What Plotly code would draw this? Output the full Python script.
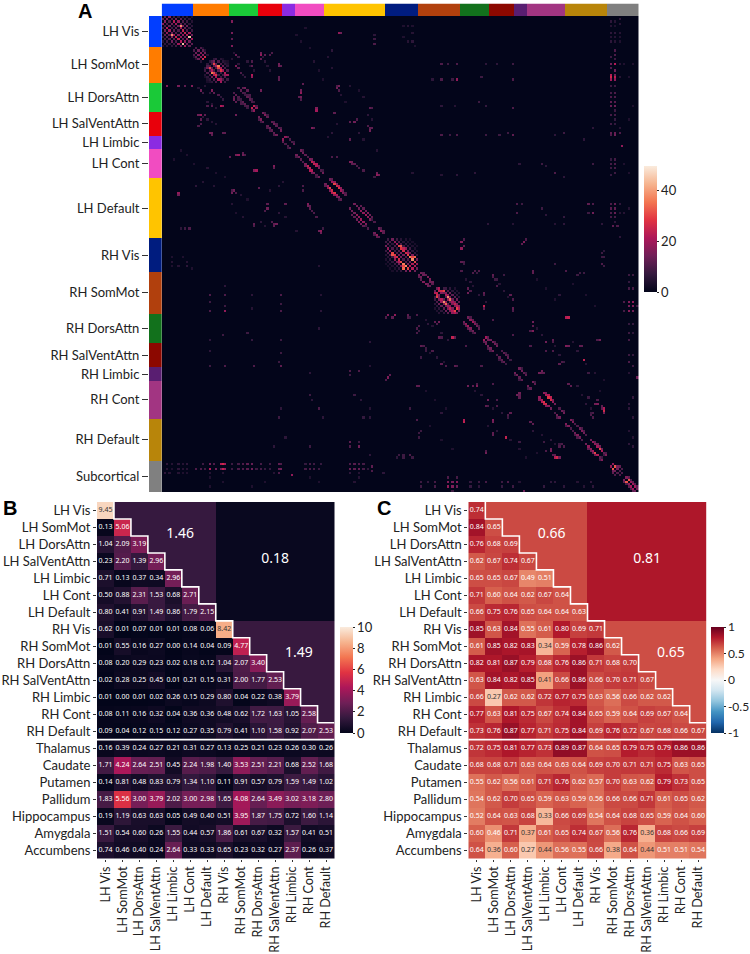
import numpy as np
import plotly.graph_objects as go

W, H = 750, 954
FONT = "Lato"

# panel A : parcels per network
networks = ["LH Vis", "LH SomMot", "LH DorsAttn", "LH SalVentAttn", "LH Limbic", "LH Cont", "LH Default",
            "RH Vis", "RH SomMot", "RH DorsAttn", "RH SalVentAttn", "RH Limbic", "RH Cont", "RH Default",
            "Subcortical"]
network_sizes = [14, 16, 13, 11, 6, 13, 27, 15, 19, 13, 11, 6, 17, 19, 14]
network_colors = ["#023eff", "#ff7c00", "#1ac938", "#e8000b", "#8b2be2", "#f14cc1", "#ffc400",
                  "#001c7f", "#b1400d", "#12711c", "#8c0800", "#591e71", "#a23582", "#b8850a", "#808080"]

# panel A : visible edges as (row, col, value), the matrix is symmetric
lh_vis = [(1,0,12),(2,1,16),(3,2,10),(4,3,14),(5,4,8),(6,5,12),(7,6,10),(8,7,16),(9,8,18),(10,9,12),(11,10,18),(12,11,14),(13,12,12),
          (3,0,18),(4,1,10),(5,2,22),(6,3,20),(7,4,14),(8,5,20),(9,6,24),(10,7,24),(11,8,22),(12,9,44),(13,10,20),
          (5,0,8),(6,1,14),(7,2,18),(8,3,12),(9,4,16),(10,5,12),(11,6,10),(12,7,20),(13,8,14),
          (7,0,6),(8,1,12),(9,2,10),(10,3,10),(11,4,14),(12,5,8),(13,6,8),(9,0,6),(10,1,8),(11,2,8),(12,3,6),(13,4,6),
          (8,4,38),(11,0,5),(12,1,6),(13,2,5),(13,0,4)]
lh_sommot = [(15,14,10),(16,15,14),(17,14,10),(17,16,16),(18,15,12),(18,17,18),(19,16,14),(19,18,26),(18,14,4),(19,15,5),(20,17,5),
             (21,20,6),(22,21,8),(23,22,12),(24,23,10),(25,24,12),(26,25,8),(27,26,8),(28,27,10),(29,28,8),
             (23,20,14),(24,21,12),(25,22,36),(26,23,22),(27,24,20),(28,25,22),(29,26,20),
             (22,20,10),(24,22,22),(26,24,28),(28,26,18),(25,23,30),(23,21,30),
             (24,19,8),(25,20,10),(26,21,10),(27,22,14),(28,23,10),(29,24,10),
             (23,19,6),(26,19,5),(27,20,6),(28,21,6),(29,22,6),(28,20,4),(29,21,4),(29,20,3),(27,19,3)]
lh_dors_sal = [(36,32,12),(37,32,14),(38,33,12),(39,35,10),(34,32,10),(35,33,12),(36,34,10),(37,35,8),(38,36,12),(39,37,12),
               (40,38,10),(37,34,9),(38,35,9),(39,36,9),(40,37,9),(41,38,8),(41,40,24),(42,41,18),(42,40,10),
               (45,43,14),(46,44,16),(46,43,10),(47,45,12),(47,44,8),(49,47,12),(50,48,14),(50,47,10),(51,49,12),(51,48,10),
               (53,51,14),(53,50,10),(52,50,12),(55,54,18),(56,54,12),(57,55,10),(58,56,10),(59,57,12),(59,56,8)]
lh_cont_default = [(62,60,14),(63,61,14),(63,60,10),(64,62,12),(65,63,10),(66,64,16),(67,65,24),(68,66,24),(69,67,22),(70,68,16),
                   (67,64,14),(68,65,18),(69,66,22),(70,67,14),(72,70,14),(72,69,8),(71,69,10),
                   (75,73,14),(76,74,20),(77,75,30),(78,76,26),(79,77,28),(80,78,20),(81,79,16),(76,73,12),(77,74,18),(78,75,16),
                   (79,76,22),(80,77,18),(81,78,14),(82,80,12),(82,79,10),
                   (86,84,14),(87,85,14),(88,86,14),(89,87,18),(90,88,18),(91,89,20),(92,90,18),(93,91,16),(89,85,12),(90,86,12),
                   (91,87,14),(92,88,16),(93,89,14),(94,90,12),(95,92,10),(94,91,8),(97,95,14),(98,96,18),(99,97,12),(98,95,10),(99,96,12)]
lh_cross = [(31,2,16),(31,7,15),(31,10,12),(31,13,16),(33,22,16),(33,17,14),(40,26,22),(40,27,18),(40,20,10),(40,22,12),
            (44,17,18),(44,16,14),(44,19,12),(46,17,12),(48,17,10),(49,16,10),(52,22,14),(53,22,12),(52,27,12),(52,21,14),
            (52,28,12),(44,33,14),(79,7,18),(80,7,14),(76,15,6),(79,31,14),(78,31,10),(77,43,12),(67,50,16),(68,50,12),
            (69,42,20),(69,41,16),(62,34,18),(62,33,14),(62,36,14),(61,36,12),(63,30,12),(62,37,10),(78,32,14),(79,33,10),
            (93,41,12),(86,47,14),(87,46,10),(93,50,12),(92,49,10),(84,55,12),(84,47,12),(93,51,14),(94,50,12),(94,41,10),
            (96,71,18),(97,71,14),(85,65,14),(86,66,12),(87,67,10),(95,12,10),(95,10,8),(95,8,6),(65,84,16),(66,85,12),
            (68,88,10),(69,90,10),(76,63,10),(78,63,10),(70,96,14),(72,95,8),(34,18,8),(34,21,6),(34,23,12),(35,25,10),
            (36,26,6),(37,27,7),(31,19,5),(32,16,5),(38,20,6),(39,22,5),(41,24,5),(45,18,6),(46,20,6),(47,22,5),(48,24,5),
            (60,8,4),(62,11,4),(64,5,4),(66,14,4),(68,20,5),(70,24,4),(72,28,4),(74,18,5),(76,23,5),(80,35,5),(82,38,4),
            (84,31,5),(88,33,4),(90,36,5),(92,44,6),(94,46,5),(88,52,6),(90,55,5),(96,60,5),(74,54,5),(76,52,6),(78,48,5)]
rh_vis = [(101,100,8),(102,101,10),(103,102,6),(104,103,10),(105,104,8),(106,105,10),(107,106,14),(108,107,14),(109,108,10),
          (110,109,10),(111,110,14),(112,111,22),(113,112,22),(114,113,14),
          (103,100,14),(104,101,18),(105,102,20),(106,103,30),(107,104,28),(108,105,26),(109,106,26),(110,107,30),(111,108,36),
          (112,109,38),(113,110,30),(114,111,18),(107,103,32),(108,104,24),(112,108,30),(110,106,22),
          (105,100,8),(106,101,10),(107,102,10),(108,103,8),(109,104,18),(110,105,14),(111,106,14),(112,107,16),(113,108,34),(114,109,14),
          (107,100,5),(108,101,5),(109,102,6),(110,103,6),(111,104,8),(112,105,6),(113,106,6),(114,107,6),
          (109,100,4),(110,101,4),(111,102,4),(112,103,4),(113,104,4),(114,105,4),(111,100,3),(112,101,3),(113,102,3),(114,103,3)]
rh_sommot = [(116,115,14),(117,115,12),(117,116,14),(118,116,12),(119,117,16),(120,118,16),(120,119,14),(121,119,14),
             (121,120,12),(123,122,14),(124,122,22),(124,123,24),(125,123,26),(125,124,16),(126,123,30),(126,124,14),
             (127,124,16),(127,125,22),(127,126,12),(128,125,18),(128,126,38),(128,127,18),(129,126,16),(129,127,34),
             (129,128,12),(130,127,14),(130,128,20),(130,129,16),(131,128,16),(131,129,24),(131,130,16),(132,129,16),
             (132,130,22),(132,131,30),(133,130,18),(133,131,22),(133,132,14),
             (127,122,8),(128,123,10),(129,124,14),(130,125,12),(131,126,12),(132,127,14),(133,128,12),(126,122,8),(129,122,6),
             (130,123,6),(131,124,6),(132,125,6),(133,126,6),(131,122,4),(132,123,4),(133,124,5)]
rh_dors_sal = [(137,135,14),(138,136,18),(139,137,20),(140,138,16),(141,139,14),(142,140,12),(138,135,10),(139,136,12),(140,137,12),
               (141,138,10),(142,139,8),(145,144,20),(146,144,12),(146,145,14),(147,145,14),(148,146,14),(149,147,14),(150,148,14),
               (149,146,10),(150,147,10),(152,150,10),(153,151,12),(154,152,12),(155,153,12),(154,151,8),(155,152,9),(156,154,8),
               (160,158,14),(161,159,14),(161,158,8),(162,160,12),(163,161,12),(163,160,8)]
rh_cont_default = [(166,164,14),(167,165,12),(167,164,8),(171,169,18),(172,170,22),(173,171,28),(174,172,26),(172,169,16),(173,170,22),
                   (174,171,24),(175,172,16),(176,174,14),(175,173,18),(178,176,10),(179,177,14),(180,178,14),(180,177,10),
                   (183,181,16),(184,182,16),(184,181,10),(185,183,10),(186,184,10),(187,185,14),(188,186,16),(189,187,14),(188,185,10),
                   (189,186,10),(190,188,10),(192,190,14),(193,191,18),(194,192,18),(195,193,20),(196,194,30),(197,195,22),(194,191,12),
                   (195,192,14),(196,193,14),(197,194,14),(198,196,12),(199,197,16),(199,196,10),(198,197,8)]
rh_cross = [(134,101,16),(134,104,18),(134,110,12),(134,114,10),(162,101,16),(161,102,12),(139,115,10),(141,115,8),(166,115,12),
            (181,114,10),(176,111,8),(197,111,10),(197,108,8),(197,106,8),(186,116,8),(137,124,14),(137,122,12),(138,119,6),
            (144,130,24),(144,131,12),(144,125,10),(148,117,10),(150,121,10),(156,125,12),(157,131,12),(181,135,22),(166,137,14),
            (166,141,16),(166,139,12),(165,141,10),(138,123,10),(140,114,10),(142,114,10),(135,100,10),(135,103,12),(135,110,10),
            (135,111,8),(144,124,12),(148,116,12),(149,118,8),(150,118,8),(148,136,10),(181,148,16),(172,146,14),(175,145,12),
            (175,150,10),(187,148,12),(189,154,24),(178,156,12),(195,145,10),(157,127,10),(157,132,10),(157,143,10),(153,116,8),
            (169,160,14),(170,160,12),(191,160,8),(163,100,10),(166,114,12),(165,148,10),(170,159,14),(171,160,12),(182,165,12),
            (183,166,8),(172,150,10),(175,146,10),(179,155,10),(180,155,8),(195,174,16),(197,176,12),(198,177,26),(198,178,14),
            (192,179,10),(193,180,10),(182,135,24),(182,148,14),(178,125,6),(183,166,12),(187,115,8),(189,115,8),(188,148,12),
            (191,171,8),(194,174,14),(195,172,10),(198,176,22),(197,175,12),(193,178,10),(192,178,8),(196,145,14),(186,166,6),
            (198,108,8),(198,112,8),(198,105,6),(202,94,12),(204,94,10),(205,99,6),
            (136,118,5),(139,121,5),(142,125,6),(145,128,6),(151,120,5),(153,123,6),(155,126,5),(168,118,4),(172,122,4),(176,127,4),
            (184,120,4),(190,125,4),(194,130,4),(168,140,5),(170,143,6),(176,148,5),(178,152,6),(184,146,5),(186,150,6),(190,156,5),
            (194,160,5),(198,163,4),(188,170,5),(190,174,6),(192,176,5),(196,168,4)]
inter_hemi = [(108,4,4),(110,4,5),(112,4,4),(112,7,5),(108,9,4),(112,11,6),(110,11,5),(113,13,4),(132,28,18),(125,28,10),
              (125,21,10),(128,21,8),(132,21,10),(130,28,8),(121,28,6),(157,21,8),(157,28,10),(145,21,6),(143,27,8),(150,21,6),
              (142,38,8),(145,40,7),(157,41,10),(125,40,6),(131,40,5),(125,53,10),(129,53,8),(132,53,10),(145,53,8),(151,53,8),
              (157,53,12),(155,52,8),(180,52,8),(176,53,6),(189,55,6),(193,50,6),(160,66,6),(170,66,8),(172,67,6),(176,70,10),
              (180,72,6),(193,66,8),(125,71,5),(132,71,6),(140,70,6),(112,70,5),(159,84,10),(159,88,10),(161,84,8),(170,86,8),
              (172,89,6),(176,93,5),(180,90,7),(180,93,6),(191,84,12),(193,84,10),(193,88,14),(191,88,8),(197,93,6),(146,93,6),
              (157,93,5)]
subcortical = [(209,208,32),(210,209,18),(211,210,20),(212,211,20),(213,212,14),(211,209,12),(212,210,10),(213,211,12),(208,207,16),
               (210,208,10),(209,207,12),(203,202,32),(202,201,18),(204,203,14),(205,202,12),(205,204,10),(206,203,10),(204,202,14),
               (206,205,10),(201,2,6),(203,2,5),(205,1,6),(201,4,5),(203,4,4),(205,3,5),(201,7,6),(203,7,6),(205,7,5),(201,9,5),
               (203,9,5),(205,9,4),(201,11,6),(203,11,5),(205,11,4),(203,15,10),(203,17,10),(203,19,8),(201,18,8),(201,21,14),
               (203,21,22),(201,23,10),(203,24,14),(201,26,22),(203,26,14),(201,27,26),(203,27,24),(201,28,20),(203,28,18),(205,21,5),
               (205,27,5),(207,21,4),(209,27,4),(211,21,4),(201,31,8),(203,31,8),(201,34,9),(203,34,10),(201,36,10),(203,36,10),
               (201,38,12),(203,38,11),(201,40,13),(203,40,14),(203,42,8),(201,44,9),(203,44,9),(203,46,7),(201,48,8),(203,48,7),
               (201,52,12),(203,52,13),(205,52,10),(201,53,10),(203,53,14),(206,58,18),(205,50,5),(209,46,4),(211,40,4),(201,64,7),
               (203,64,9),(201,66,9),(203,66,10),(201,68,8),(203,68,9),(203,70,8),(201,71,7),(207,66,4),(209,70,4),(201,84,10),
               (203,84,13),(201,86,11),(203,86,12),(201,88,10),(203,88,13),(201,90,9),(203,90,9),(205,84,6),(205,88,5),(203,92,6),
               (209,86,5),(207,88,5),(209,116,8),(211,116,8),(209,119,7),(209,122,9),(211,122,9),(209,128,16),(211,128,18),(209,130,15),
               (211,130,16),(209,132,17),(211,132,14),(213,130,8),(207,128,10),(207,132,9),(209,138,7),(211,138,7),(209,142,8),(211,142,6),
               (209,145,9),(209,152,8),(211,152,7),(209,155,10),(211,157,8),(213,162,14),(209,160,5),(211,171,7),(209,174,6),(209,176,6),
               (211,180,6),(209,186,5),(211,189,5),(211,193,6),(209,192,6)]

# panels B and C
labels_x = networks[:14]
labels_y = networks[:14] + ["Thalamus", "Caudate", "Putamen", "Pallidum", "Hippocampus", "Amygdala", "Accumbens"]

sc_rows = [
    [9.45],
    [0.13, 5.06],
    [1.04, 2.09, 3.19],
    [0.23, 2.20, 1.39, 2.96],
    [0.71, 0.13, 0.37, 0.34, 2.96],
    [0.50, 0.88, 2.31, 1.53, 0.68, 2.71],
    [0.80, 0.41, 0.91, 1.49, 0.86, 1.79, 2.15],
    [0.62, 0.01, 0.07, 0.01, 0.01, 0.08, 0.06, 8.42],
    [0.01, 0.55, 0.16, 0.27, 0.00, 0.14, 0.04, 0.09, 4.77],
    [0.08, 0.20, 0.29, 0.23, 0.02, 0.18, 0.12, 1.04, 2.07, 3.40],
    [0.02, 0.28, 0.25, 0.45, 0.01, 0.21, 0.15, 0.31, 2.00, 1.77, 2.53],
    [0.01, 0.00, 0.01, 0.02, 0.26, 0.15, 0.29, 0.80, 0.04, 0.22, 0.38, 3.79],
    [0.08, 0.11, 0.16, 0.32, 0.04, 0.36, 0.36, 0.48, 0.62, 1.72, 1.63, 1.05, 2.58],
    [0.09, 0.04, 0.12, 0.15, 0.12, 0.27, 0.35, 0.79, 0.41, 1.10, 1.58, 0.92, 2.07, 2.53],
    [0.16, 0.39, 0.24, 0.27, 0.21, 0.31, 0.27, 0.13, 0.25, 0.21, 0.23, 0.26, 0.30, 0.26],
    [1.71, 4.24, 2.64, 2.51, 0.45, 2.24, 1.98, 1.40, 3.53, 2.51, 2.21, 0.68, 2.52, 1.68],
    [0.14, 0.81, 0.48, 0.83, 0.79, 1.34, 1.10, 0.11, 0.91, 0.57, 0.79, 1.59, 1.49, 1.02],
    [1.83, 5.56, 3.00, 3.79, 2.02, 3.00, 2.98, 1.65, 4.08, 2.64, 3.49, 3.02, 3.18, 2.80],
    [0.19, 1.19, 0.63, 0.63, 0.05, 0.49, 0.40, 0.51, 3.95, 1.87, 1.75, 0.72, 1.60, 1.14],
    [1.51, 0.54, 0.60, 0.26, 1.55, 0.44, 0.57, 1.86, 0.61, 0.67, 0.32, 1.57, 0.41, 0.51],
    [0.74, 0.46, 0.40, 0.24, 2.64, 0.33, 0.33, 0.65, 0.23, 0.32, 0.27, 2.37, 0.26, 0.37],
]
fc_rows = [
    [0.74],
    [0.84, 0.65],
    [0.76, 0.68, 0.69],
    [0.62, 0.67, 0.74, 0.67],
    [0.65, 0.65, 0.67, 0.49, 0.51],
    [0.71, 0.60, 0.64, 0.62, 0.67, 0.64],
    [0.66, 0.75, 0.76, 0.65, 0.64, 0.64, 0.63],
    [0.85, 0.63, 0.84, 0.55, 0.61, 0.80, 0.69, 0.71],
    [0.61, 0.85, 0.82, 0.83, 0.34, 0.59, 0.78, 0.86, 0.62],
    [0.82, 0.81, 0.87, 0.79, 0.68, 0.76, 0.86, 0.71, 0.68, 0.70],
    [0.63, 0.84, 0.82, 0.85, 0.41, 0.66, 0.86, 0.66, 0.70, 0.71, 0.67],
    [0.66, 0.27, 0.62, 0.62, 0.72, 0.77, 0.75, 0.63, 0.56, 0.66, 0.62, 0.62],
    [0.77, 0.63, 0.81, 0.75, 0.67, 0.74, 0.84, 0.65, 0.59, 0.64, 0.69, 0.67, 0.64],
    [0.73, 0.76, 0.87, 0.77, 0.71, 0.75, 0.84, 0.69, 0.76, 0.72, 0.67, 0.68, 0.66, 0.67],
    [0.72, 0.75, 0.81, 0.77, 0.73, 0.89, 0.87, 0.64, 0.65, 0.79, 0.75, 0.79, 0.86, 0.86],
    [0.68, 0.68, 0.71, 0.63, 0.64, 0.63, 0.64, 0.69, 0.70, 0.71, 0.71, 0.75, 0.63, 0.65],
    [0.55, 0.62, 0.56, 0.61, 0.71, 0.76, 0.62, 0.57, 0.70, 0.63, 0.62, 0.79, 0.73, 0.65],
    [0.54, 0.62, 0.70, 0.65, 0.59, 0.63, 0.59, 0.56, 0.66, 0.66, 0.71, 0.61, 0.65, 0.62],
    [0.52, 0.64, 0.63, 0.68, 0.33, 0.66, 0.69, 0.54, 0.64, 0.68, 0.65, 0.59, 0.64, 0.60],
    [0.60, 0.46, 0.71, 0.37, 0.61, 0.65, 0.74, 0.67, 0.56, 0.76, 0.36, 0.68, 0.66, 0.69],
    [0.64, 0.36, 0.60, 0.27, 0.44, 0.56, 0.55, 0.66, 0.38, 0.64, 0.44, 0.51, 0.51, 0.54],
]
# means shown in the upper triangle : within LH, between, within RH
sc_means = [1.46, 0.18, 1.49]
fc_means = [0.66, 0.81, 0.65]

rocket = [[0, "#03051a"], [1/7, "#35193e"], [2/7, "#701f57"], [3/7, "#ad1759"],
          [4/7, "#e13342"], [5/7, "#f37651"], [6/7, "#f6b48f"], [1, "#faebdd"]]
rdbu = [[0, "#053061"], [0.1, "#2166ac"], [0.2, "#4393c3"], [0.3, "#92c5de"], [0.4, "#d1e5f0"], [0.5, "#f7f7f7"],
        [0.6, "#fddbc7"], [0.7, "#f4a582"], [0.8, "#d6604d"], [0.9, "#b2182b"], [1, "#67001f"]]


def xdom(a, b):
    return [a / W, b / W]


def ydom(top, bottom):
    return [1 - bottom / H, 1 - top / H]


def fill_block(rows, means):
    # lower triangle from the table, upper triangle from the block means
    z = np.zeros((len(rows), 14))
    for i, row in enumerate(rows):
        for j in range(14):
            if j < len(row):
                z[i, j] = row[j]
            elif j < 7:
                z[i, j] = means[0]
            elif i < 7:
                z[i, j] = means[1]
            else:
                z[i, j] = means[2]
    return z


def colorbar(ticks, text, x, top, bottom, size=13):
    return dict(x=x / W, xanchor="left", y=1 - bottom / H, yanchor="bottom", xpad=0, ypad=0,
                len=bottom - top, lenmode="pixels", thickness=12.5, thicknessmode="pixels",
                tickvals=ticks, ticktext=text, ticks="outside", ticklen=2, tickwidth=1, tickcolor="#222",
                outlinewidth=0, tickfont=dict(family=FONT, size=size, color="#222"))


n = sum(network_sizes)
sc_matrix = np.zeros((n, n))
for edges in [lh_vis, lh_sommot, lh_dors_sal, lh_cont_default, lh_cross, rh_vis, rh_sommot,
              rh_dors_sal, rh_cont_default, rh_cross, inter_hemi, subcortical]:
    for r, c, v in edges:
        sc_matrix[r, c] = v
        sc_matrix[c, r] = v

group_of = np.repeat(np.arange(len(networks)), network_sizes)
edges_idx = np.cumsum([0] + network_sizes)
centers = [(edges_idx[i] + edges_idx[i + 1] - 1) / 2 for i in range(len(networks))]
strip_scale = []
for i, col in enumerate(network_colors):
    strip_scale += [[i / 15, col], [(i + 1) / 15, col]]

fig = go.Figure()

# A
fig.add_trace(go.Heatmap(z=sc_matrix, colorscale=rocket, zmin=0, zmax=49.5, xaxis="x", yaxis="y",
                         colorbar=colorbar([0, 20, 40], ["0", "20", "40"], 644, 166, 292)))
fig.add_trace(go.Heatmap(z=[group_of], colorscale=strip_scale, zmin=-0.5, zmax=14.5, showscale=False,
                         xaxis="x2", yaxis="y2"))
fig.add_trace(go.Heatmap(z=[[g] for g in group_of], colorscale=strip_scale, zmin=-0.5, zmax=14.5, showscale=False,
                         xaxis="x3", yaxis="y3"))

# B and C
for rows, means, scale, zmin, zmax, cb, xa, ya, dark in [
    (sc_rows, sc_means, rocket, 0, 10, colorbar([0, 2, 4, 6, 8, 10], ["0", "2", "4", "6", "8", "10"], 339.5, 627, 733),
     "x4", "y4", lambda v: v > 8),
    (fc_rows, fc_means, rdbu, -1, 1, colorbar([-1, -0.5, 0, 0.5, 1], ["-1", "-0.5", "0", "0.5", "1"], 711, 627, 733, size=12),
     "x5", "y5", lambda v: v < 0.45),
]:
    fig.add_trace(go.Heatmap(z=fill_block(rows, means), colorscale=scale, zmin=zmin, zmax=zmax, colorbar=cb,
                             xaxis=xa, yaxis=ya))
    xs, ys, txt, colors = [], [], [], []
    for i, row in enumerate(rows):
        for j, v in enumerate(row):
            xs.append(j)
            ys.append(i)
            txt.append(f"{v:.2f}")
            colors.append("#333333" if dark(v) else "#ffffff")
    fig.add_trace(go.Scatter(x=xs, y=ys, text=txt, mode="text", showlegend=False, hoverinfo="skip",
                             textfont=dict(family="Noto Sans", size=7, color=colors), xaxis=xa, yaxis=ya))
    # staircase above the diagonal
    sx, sy = [], []
    for i in range(13):
        sx += [i + 0.5, i + 0.5, i + 1.5]
        sy += [i - 0.5, i + 0.5, i + 0.5]
    fig.add_trace(go.Scatter(x=sx, y=sy, mode="lines", line=dict(color="white", width=1.6), showlegend=False,
                             hoverinfo="skip", xaxis=xa, yaxis=ya))
    fig.add_trace(go.Scatter(x=[-0.5, 13.5], y=[13.5, 13.5], mode="lines", line=dict(color="white", width=1.6),
                             showlegend=False, hoverinfo="skip", xaxis=xa, yaxis=ya))
    fig.add_trace(go.Scatter(x=[4.4, 10, 11.4], y=[1.44, 2.9, 8.4], text=[f"{m:.2f}" for m in means], mode="text",
                             showlegend=False, hoverinfo="skip", xaxis=xa, yaxis=ya,
                             textfont=dict(family="Noto Sans", size=14, color="white")))

tick_font = dict(family=FONT, size=13, color="#222")
off = dict(visible=False, showgrid=False, zeroline=False)
heat_x = dict(tickmode="array", tickvals=list(range(14)), ticktext=labels_x, tickangle=-90, ticks="outside",
              ticklen=2, tickwidth=1, tickcolor="#333", tickfont=dict(family=FONT, size=12.6, color="#222"),
              range=[-0.5, 13.5], showgrid=False, zeroline=False, showline=False)
heat_y = dict(tickmode="array", tickvals=list(range(21)), ticktext=labels_y, ticks="outside",
              ticklen=3, tickwidth=1, tickcolor="#333", tickfont=tick_font, range=[20.5, -0.5],
              showgrid=False, zeroline=False, showline=False)

fig.update_layout(
    width=W, height=H, margin=dict(l=0, r=0, t=0, b=0, autoexpand=False), paper_bgcolor="white", plot_bgcolor="white",
    showlegend=False,
    xaxis=dict(off, domain=xdom(161.7, 638.7), range=[-0.5, n - 0.5]),
    yaxis=dict(off, domain=ydom(16, 492), range=[n - 0.5, -0.5]),
    xaxis2=dict(off, domain=xdom(161.7, 638.7), range=[-0.5, n - 0.5]),
    yaxis2=dict(off, domain=ydom(3.5, 16), range=[-0.5, 0.5]),
    xaxis3=dict(off, domain=xdom(149, 161.7), range=[-0.5, 0.5]),
    yaxis3=dict(domain=ydom(16, 492), range=[n - 0.5, -0.5], tickmode="array", tickvals=centers, ticktext=networks,
                ticks="outside", ticklen=6, tickwidth=1, tickcolor="#333", tickfont=tick_font,
                showgrid=False, zeroline=False, showline=False, anchor="x3"),
    xaxis4=dict(heat_x, domain=xdom(97, 334.5), anchor="y4"),
    yaxis4=dict(heat_y, domain=ydom(502, 858.5), anchor="x4"),
    xaxis5=dict(heat_x, domain=xdom(468.3, 706.7), anchor="y5"),
    yaxis5=dict(heat_y, domain=ydom(502, 858.5), anchor="x5"),
)

for letter, x, y in [("A", 76, 11), ("B", 1, 508), ("C", 375, 508)]:
    fig.add_annotation(text=f"<b>{letter}</b>", xref="paper", yref="paper", x=x / W, y=1 - y / H, xanchor="left",
                       yanchor="middle", showarrow=False, font=dict(family="Liberation Sans", size=20, color="black"))

# the browser's default body margin would push the 750 px figure out of the window
fig.write_html("out.html", config={"displayModeBar": False}, post_script="document.body.style.margin='0';")
